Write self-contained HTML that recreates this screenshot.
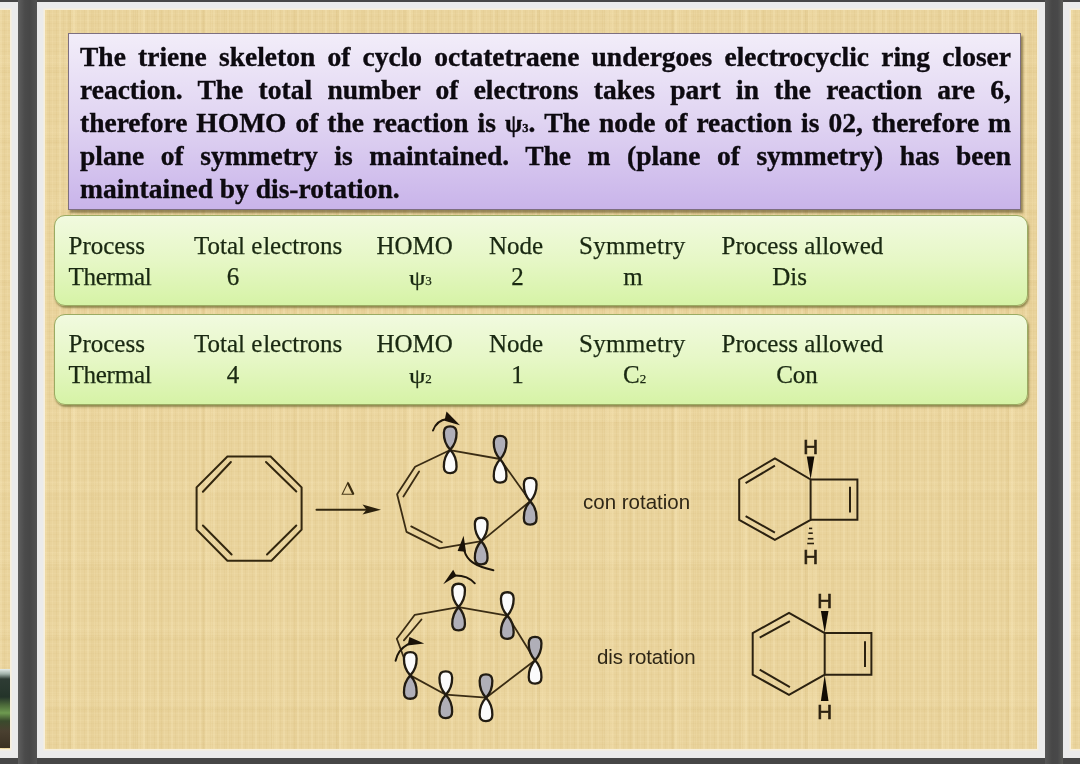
<!DOCTYPE html>
<html><head><meta charset="utf-8">
<style>
html,body{margin:0;padding:0;width:1080px;height:764px;overflow:hidden;background:#474747;}
body{position:relative;font-family:"Liberation Serif",serif;filter:blur(0.4px);}
.abs{position:absolute;}
.frame{position:absolute;background:#ebebeb;}
.tex{position:absolute;box-shadow:0 0 0 1.5px #f7efdc;background-color:#e9d39c;
background-image:
repeating-linear-gradient(90deg, rgba(252,238,195,.22) 0 2px, rgba(0,0,0,0) 2px 4px, rgba(205,175,105,.10) 4px 5px, rgba(0,0,0,0) 5px 7px, rgba(252,236,190,.14) 7px 8px, rgba(0,0,0,0) 8px 11px, rgba(200,168,95,.10) 11px 12px, rgba(0,0,0,0) 12px 14px),
repeating-linear-gradient(90deg, rgba(0,0,0,0) 0 23px, rgba(200,170,100,.10) 23px 26px, rgba(252,236,190,.16) 26px 33px, rgba(0,0,0,0) 33px 47px, rgba(215,185,115,.10) 47px 51px, rgba(0,0,0,0) 51px 67px),
repeating-linear-gradient(0deg, rgba(252,238,195,.10) 0 1px, rgba(0,0,0,0) 1px 4px, rgba(205,175,105,.08) 4px 5px, rgba(0,0,0,0) 5px 7px),
repeating-linear-gradient(0deg, rgba(0,0,0,0) 0 37px, rgba(210,180,110,.08) 37px 43px, rgba(252,236,190,.1) 43px 55px, rgba(0,0,0,0) 55px 71px);}
#purple{position:absolute;left:68px;top:33px;width:951px;height:175px;border:1px solid #7d6f80;
 background:linear-gradient(#f2edf9 0%,#e0d4f2 50%,#c9b4ea 100%);box-shadow:2px 3px 2px rgba(80,70,30,.55);}
#ptext{position:absolute;left:80px;top:40px;width:931px;font-weight:bold;font-size:27.5px;line-height:33px;color:#0d0a10;-webkit-text-stroke:0.35px #0d0a10;}
.pl{height:33px;white-space:nowrap;text-align:justify;text-align-last:justify;}
.pl.last{text-align-last:left;}
.psi{font-weight:bold;font-size:25px;}
.sub{font-size:12.5px;font-weight:bold;}
.green{position:absolute;left:54px;width:972px;border:1px solid #9aab62;border-radius:11px;
 background:linear-gradient(#f1fadf 0%,#e6f7c6 50%,#d6f3a6 100%);box-shadow:1px 2px 2px rgba(90,90,30,.6);}
.cell{position:absolute;font-size:25px;line-height:28px;color:#1a2912;white-space:nowrap;-webkit-text-stroke:0.25px #1a2912;}
.hd{letter-spacing:0px;}
.ctr{width:80px;text-align:center;}
.tpsi{font-size:22px;display:inline-block;transform:scaleX(1.2);transform-origin:0 0;margin-right:2.5px;}
.tsub{font-size:13px;}
.lbl{position:absolute;font-family:"Liberation Sans",sans-serif;font-size:20.5px;line-height:24px;color:#2e2616;white-space:nowrap;}
.hh{font-family:"Liberation Sans",sans-serif;font-size:20.5px;font-weight:normal;text-anchor:middle;fill:#2b2110;stroke:#2b2110;stroke-width:0.6px;}
</style></head><body>
<div class="abs" style="left:18px;top:0;width:19px;height:764px;background:linear-gradient(90deg,#5e5e5e 0,#4b4b4b 35%,#474747 60%,#535353 100%);"></div>
<div class="abs" style="left:1045px;top:0;width:18px;height:764px;background:linear-gradient(90deg,#575757 0,#474747 40%,#484849 70%,#5a5b57 100%);"></div>
<!-- left slide -->
<div class="frame" style="left:-20px;top:2px;width:38px;height:756px;"></div>
<div class="tex" style="left:0;top:10px;width:10px;height:739px;"></div>
<div class="abs" style="left:0;top:669px;width:10px;height:79px;background:linear-gradient(#e4ece8 0px,#9fb0a8 5px,#2e3c34 10px,#24342a 28px,#4c6a3a 36px,#6e9a50 44px,#3a4a2c 52px,#4a4030 62px,#3a3022 79px);"></div>
<!-- center slide -->
<div class="frame" style="left:37px;top:2px;width:1008px;height:756px;"></div>
<div class="tex" style="left:45px;top:10px;width:992px;height:739px;"></div>
<!-- right slide -->
<div class="frame" style="left:1063px;top:2px;width:40px;height:756px;"></div>
<div class="tex" style="left:1071px;top:10px;width:20px;height:739px;"></div>

<div id="purple"></div>
<div id="ptext">
<div class="pl">The triene skeleton of cyclo octatetraene undergoes electrocyclic ring closer</div>
<div class="pl">reaction. The total number of electrons takes part in the reaction are 6,</div>
<div class="pl">therefore HOMO of the reaction is <span class="psi">ψ<span class="sub">3</span></span>. The node of reaction is 02, therefore m</div>
<div class="pl">plane of symmetry is maintained. The m (plane of symmetry) has been</div>
<div class="pl last">maintained by dis-rotation.</div>
</div>

<div class="green" style="top:215px;height:89px;"></div>
<div class="green" style="top:314px;height:89px;"></div>
<div class="cell" style="left:68.5px;top:232px">Process</div>
<div class="cell hd" style="left:194px;top:232px">Total <span style="letter-spacing:0.8px">e</span>lectrons</div>
<div class="cell" style="left:376.5px;top:232px">HOMO</div>
<div class="cell" style="left:489px;top:232px">Node</div>
<div class="cell hd" style="left:579px;letter-spacing:0.3px;top:232px">Symmetry</div>
<div class="cell hd" style="left:721.5px;top:232px">Process allowed</div>
<div class="cell" style="left:68.5px;top:262.5px;letter-spacing:-0.25px">Thermal</div>
<div class="cell ctr" style="left:193px;top:262.5px">6</div>
<div class="cell" style="left:409px;top:262.5px"><span class="tpsi">ψ</span><span class="tsub">3</span></div>
<div class="cell ctr" style="left:477.5px;top:262.5px">2</div>
<div class="cell ctr" style="left:593px;top:262.5px">m</div>
<div class="cell ctr" style="left:749.6px;top:262.5px">Dis</div>
<div class="cell" style="left:68.5px;top:330px">Process</div>
<div class="cell hd" style="left:194px;top:330px">Total <span style="letter-spacing:0.8px">e</span>lectrons</div>
<div class="cell" style="left:376.5px;top:330px">HOMO</div>
<div class="cell" style="left:489px;top:330px">Node</div>
<div class="cell hd" style="left:579px;letter-spacing:0.3px;top:330px">Symmetry</div>
<div class="cell hd" style="left:721.5px;top:330px">Process allowed</div>
<div class="cell" style="left:68.5px;top:360.5px;letter-spacing:-0.25px">Thermal</div>
<div class="cell ctr" style="left:193px;top:360.5px">4</div>
<div class="cell" style="left:409px;top:360.5px"><span class="tpsi">ψ</span><span class="tsub">2</span></div>
<div class="cell ctr" style="left:477.5px;top:360.5px">1</div>
<div class="cell" style="left:623px;top:360.5px">C<span class="tsub">2</span></div>
<div class="cell ctr" style="left:757px;top:360.5px">Con</div>

<!--CHEM--><svg class="abs" style="left:0;top:0" width="1080" height="764" viewBox="0 0 1080 764">
<g fill="none" stroke="#33270f" stroke-width="2" stroke-linecap="round" stroke-linejoin="miter">
<polygon points="227.4,456.6 270.6,456.6 301.6,487.4 301.6,529.6 271.4,560.8 227.4,560.8 196.6,529.6 196.6,487.4"/>
<line x1="202.9" y1="491.8" x2="230.9" y2="462"/>
<line x1="266" y1="462" x2="296.3" y2="491.5"/>
<line x1="202.9" y1="525.5" x2="231.6" y2="554.5"/>
<line x1="267" y1="554.5" x2="296.3" y2="525.5"/>
<line x1="316.5" y1="509.8" x2="368" y2="509.8"/>
</g>
<path d="M381,509.8 L362.5,504.6 L366.5,509.8 L362.5,514.6 Z" fill="#2a200c"/>
<path d="M342.2,494.3 L347.8,482.8 L353.4,494.3 Z" fill="none" stroke="#4a3a1a" stroke-width="1.1"/>
<path d="M347.8,482.8 L353.4,494.3" stroke="#3a2c10" stroke-width="2.2"/>
<g fill="none" stroke="#3a2c14" stroke-width="1.8" stroke-linejoin="round" stroke-linecap="round">
<polyline points="500.1,459 449.7,450.2 415.1,466.7 397.1,494.2 406.5,531.9 439.5,548.4 481.6,541.1 530.2,501.2 500.1,459"/>
<line x1="419.1" y1="471.4" x2="403.4" y2="496.6"/>
<line x1="411.2" y1="526.4" x2="441.9" y2="542.2"/>
</g>
<g fill="none" stroke="#3a2c14" stroke-width="1.8" stroke-linejoin="round" stroke-linecap="round">
<polyline points="507.3,615.6 458.6,607.1 414.8,614.8 396.8,638.8 401,650 410.3,675.4 445.8,694.7 486,697.7 535.1,660.2 507.3,615.6"/>
<line x1="421.5" y1="619.5" x2="403.9" y2="640.3"/>
</g>
<g stroke="#221c12" stroke-width="2.3" stroke-linejoin="round">
<path transform="translate(450.2,449.8) scale(1,-1)" d="M0,0 C-3.49,3.74 -6.48,8.50 -6.35,17.00 C-6.35,21.76 -3.49,23.35 0,23.35 C3.49,23.35 6.35,21.76 6.35,17.00 C6.48,8.50 3.49,3.74 0,0 Z" fill="#b0afb8" class="lb"/>
<path transform="translate(450.2,449.8) scale(1,1)" d="M0,0 C-3.49,3.74 -6.48,8.50 -6.35,17.00 C-6.35,21.76 -3.49,23.35 0,23.35 C3.49,23.35 6.35,21.76 6.35,17.00 C6.48,8.50 3.49,3.74 0,0 Z" fill="#fbfbfb" class="lb"/>
<path transform="translate(500.1,459.2) scale(1,-1)" d="M0,0 C-3.49,3.74 -6.48,8.50 -6.35,17.00 C-6.35,21.76 -3.49,23.35 0,23.35 C3.49,23.35 6.35,21.76 6.35,17.00 C6.48,8.50 3.49,3.74 0,0 Z" fill="#b0afb8" class="lb"/>
<path transform="translate(500.1,459.2) scale(1,1)" d="M0,0 C-3.49,3.74 -6.48,8.50 -6.35,17.00 C-6.35,21.76 -3.49,23.35 0,23.35 C3.49,23.35 6.35,21.76 6.35,17.00 C6.48,8.50 3.49,3.74 0,0 Z" fill="#fbfbfb" class="lb"/>
<path transform="translate(530.2,501.2) scale(1,-1)" d="M0,0 C-3.49,3.74 -6.48,8.50 -6.35,17.00 C-6.35,21.76 -3.49,23.35 0,23.35 C3.49,23.35 6.35,21.76 6.35,17.00 C6.48,8.50 3.49,3.74 0,0 Z" fill="#fbfbfb" class="lb"/>
<path transform="translate(530.2,501.2) scale(1,1)" d="M0,0 C-3.49,3.74 -6.48,8.50 -6.35,17.00 C-6.35,21.76 -3.49,23.35 0,23.35 C3.49,23.35 6.35,21.76 6.35,17.00 C6.48,8.50 3.49,3.74 0,0 Z" fill="#b0afb8" class="lb"/>
<path transform="translate(481.2,541.1) scale(1,-1)" d="M0,0 C-3.49,3.74 -6.48,8.50 -6.35,17.00 C-6.35,21.76 -3.49,23.35 0,23.35 C3.49,23.35 6.35,21.76 6.35,17.00 C6.48,8.50 3.49,3.74 0,0 Z" fill="#fbfbfb" class="lb"/>
<path transform="translate(481.2,541.1) scale(1,1)" d="M0,0 C-3.49,3.74 -6.48,8.50 -6.35,17.00 C-6.35,21.76 -3.49,23.35 0,23.35 C3.49,23.35 6.35,21.76 6.35,17.00 C6.48,8.50 3.49,3.74 0,0 Z" fill="#b0afb8" class="lb"/>
<path transform="translate(458.6,607.1) scale(1,-1)" d="M0,0 C-3.49,3.74 -6.48,8.50 -6.35,17.00 C-6.35,21.76 -3.49,23.35 0,23.35 C3.49,23.35 6.35,21.76 6.35,17.00 C6.48,8.50 3.49,3.74 0,0 Z" fill="#fbfbfb" class="lb"/>
<path transform="translate(458.6,607.1) scale(1,1)" d="M0,0 C-3.49,3.74 -6.48,8.50 -6.35,17.00 C-6.35,21.76 -3.49,23.35 0,23.35 C3.49,23.35 6.35,21.76 6.35,17.00 C6.48,8.50 3.49,3.74 0,0 Z" fill="#b0afb8" class="lb"/>
<path transform="translate(507.3,615.6) scale(1,-1)" d="M0,0 C-3.49,3.74 -6.48,8.50 -6.35,17.00 C-6.35,21.76 -3.49,23.35 0,23.35 C3.49,23.35 6.35,21.76 6.35,17.00 C6.48,8.50 3.49,3.74 0,0 Z" fill="#fbfbfb" class="lb"/>
<path transform="translate(507.3,615.6) scale(1,1)" d="M0,0 C-3.49,3.74 -6.48,8.50 -6.35,17.00 C-6.35,21.76 -3.49,23.35 0,23.35 C3.49,23.35 6.35,21.76 6.35,17.00 C6.48,8.50 3.49,3.74 0,0 Z" fill="#b0afb8" class="lb"/>
<path transform="translate(535.1,660.2) scale(1,-1)" d="M0,0 C-3.49,3.74 -6.48,8.50 -6.35,17.00 C-6.35,21.76 -3.49,23.35 0,23.35 C3.49,23.35 6.35,21.76 6.35,17.00 C6.48,8.50 3.49,3.74 0,0 Z" fill="#b0afb8" class="lb"/>
<path transform="translate(535.1,660.2) scale(1,1)" d="M0,0 C-3.49,3.74 -6.48,8.50 -6.35,17.00 C-6.35,21.76 -3.49,23.35 0,23.35 C3.49,23.35 6.35,21.76 6.35,17.00 C6.48,8.50 3.49,3.74 0,0 Z" fill="#fbfbfb" class="lb"/>
<path transform="translate(486,697.7) scale(1,-1)" d="M0,0 C-3.49,3.74 -6.48,8.50 -6.35,17.00 C-6.35,21.76 -3.49,23.35 0,23.35 C3.49,23.35 6.35,21.76 6.35,17.00 C6.48,8.50 3.49,3.74 0,0 Z" fill="#b0afb8" class="lb"/>
<path transform="translate(486,697.7) scale(1,1)" d="M0,0 C-3.49,3.74 -6.48,8.50 -6.35,17.00 C-6.35,21.76 -3.49,23.35 0,23.35 C3.49,23.35 6.35,21.76 6.35,17.00 C6.48,8.50 3.49,3.74 0,0 Z" fill="#fbfbfb" class="lb"/>
<path transform="translate(445.8,694.7) scale(1,-1)" d="M0,0 C-3.49,3.74 -6.48,8.50 -6.35,17.00 C-6.35,21.76 -3.49,23.35 0,23.35 C3.49,23.35 6.35,21.76 6.35,17.00 C6.48,8.50 3.49,3.74 0,0 Z" fill="#fbfbfb" class="lb"/>
<path transform="translate(445.8,694.7) scale(1,1)" d="M0,0 C-3.49,3.74 -6.48,8.50 -6.35,17.00 C-6.35,21.76 -3.49,23.35 0,23.35 C3.49,23.35 6.35,21.76 6.35,17.00 C6.48,8.50 3.49,3.74 0,0 Z" fill="#b0afb8" class="lb"/>
<path transform="translate(410.3,675.4) scale(1,-1)" d="M0,0 C-3.49,3.74 -6.48,8.50 -6.35,17.00 C-6.35,21.76 -3.49,23.35 0,23.35 C3.49,23.35 6.35,21.76 6.35,17.00 C6.48,8.50 3.49,3.74 0,0 Z" fill="#fbfbfb" class="lb"/>
<path transform="translate(410.3,675.4) scale(1,1)" d="M0,0 C-3.49,3.74 -6.48,8.50 -6.35,17.00 C-6.35,21.76 -3.49,23.35 0,23.35 C3.49,23.35 6.35,21.76 6.35,17.00 C6.48,8.50 3.49,3.74 0,0 Z" fill="#b0afb8" class="lb"/>
</g>
<g fill="none" stroke="#1e160a" stroke-width="2" stroke-linecap="round">
<path d="M433,430.5 C435,425 439,420 447,419"/>
<path d="M464.4,551 C467,560 474,566 493.4,570.2"/>
<path d="M455.5,575.5 C463,575.5 470,578 474.8,583.3"/>
<path d="M407.8,644.3 C401,648 397,654 395.6,660.8"/>
</g>
<g fill="#1a1208">
<path d="M446.5,411.5 L460,425.2 L444.5,420.8 Z"/>
<path d="M463.6,535.8 L457.6,551 L466,551.8 Z"/>
<path d="M453.2,569.8 L443.2,584.2 L456.5,576 Z"/>
<path d="M409.4,637 L424.2,643.6 L407.6,645.4 Z"/>
</g>
<g fill="none" stroke="#2b2110" stroke-width="2" stroke-linejoin="miter">
<polygon points="774.9,458.4 810.6,479.5 810.6,519.8 774.9,539.9 739.2,519.8 739.2,479.5"/>
<polyline points="810.6,479.5 857.4,479.5 857.4,519.8 810.6,519.8"/>
<line x1="850" y1="486.8" x2="850" y2="512.5"/>
<line x1="745.6" y1="483.1" x2="774.9" y2="465.7"/>
<line x1="745.6" y1="516.1" x2="774.9" y2="532.6"/>
</g>
<path d="M810.6,479.5 L806.8000000000001,456.6 L814.4,456.6 Z" fill="#120c04"/>
<rect x="809.00" y="527.60" width="3.20" height="1.6" fill="#2b2110"/>
<rect x="808.40" y="532.40" width="4.40" height="1.6" fill="#2b2110"/>
<rect x="807.80" y="537.90" width="5.60" height="1.6" fill="#2b2110"/>
<rect x="807.20" y="542.70" width="6.80" height="1.6" fill="#2b2110"/>
<text x="810.6" y="454.2" class="hh">H</text>
<text x="810.6" y="564.4" class="hh">H</text>
<g fill="none" stroke="#2b2110" stroke-width="2" stroke-linejoin="miter">
<polygon points="789,612.9 824.7,633.1 824.7,674.7 789,694.8 752.7,674.7 752.7,633.1"/>
<polyline points="824.7,633.1 871.4,633.1 871.4,674.7 824.7,674.7"/>
<line x1="865" y1="641.3" x2="865" y2="667"/>
<line x1="759.7" y1="637.6" x2="789.9" y2="621.2"/>
<line x1="759.7" y1="669.7" x2="789.9" y2="687.1"/>
</g>
<path d="M824.7,633.1 L820.9000000000001,611.1 L828.5,611.1 Z" fill="#120c04"/>
<path d="M824.7,674.7 L820.9000000000001,700.9 L828.5,700.9 Z" fill="#120c04"/>
<text x="824.7" y="607.6" class="hh">H</text>
<text x="824.7" y="718.6" class="hh">H</text>
</svg><!--/CHEM-->
<div class="lbl" style="left:583px;top:490px">con rotation</div>
<div class="lbl" style="left:597px;top:645px;letter-spacing:-0.15px">dis rotation</div>
</body></html>
